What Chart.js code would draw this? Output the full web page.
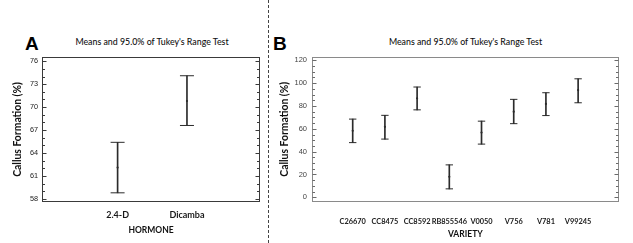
<!DOCTYPE html>
<html>
<head>
<meta charset="utf-8">
<script src="https://cdn.jsdelivr.net/npm/chart.js@4/dist/chart.umd.min.js"></script>
<style>
  body { margin: 0; background: #fff; width: 633px; height: 243px; position: relative; overflow: hidden; }
  canvas { position: absolute; top: 0; }
  #chartA { left: 0; }
  #chartB { left: 270px; }
  .letter { position: absolute; top: 34px; font: bold 19px "Liberation Sans", Arial, sans-serif; line-height: 1; color: #000; }
  .title { position: absolute; top: 37px; font: 500 8.8px Lato, sans-serif; line-height: 10px; color: #111; text-align: center; white-space: nowrap; }
  #sep { position: absolute; left: 268px; top: 0; height: 243px; border-left: 1px dashed #444; }
</style>
</head>
<body>
<div class="letter" style="left:25px">A</div>
<div class="letter" style="left:273px">B</div>
<div class="title" style="left:42px;width:220px">Means and 95.0% of Tukey's Range Test</div>
<div class="title" style="left:312px;width:307px">Means and 95.0% of Tukey's Range Test</div>
<div id="sep"></div>
<canvas id="chartA" width="268" height="243"></canvas>
<canvas id="chartB" width="363" height="243"></canvas>
<script>
// Panel A - hormone
const hormones = ['2.4-D', 'Dicamba'];
const hormoneMean = [62.1, 70.8];
const hormoneLow = [58.8, 67.6];
const hormoneHigh = [65.4, 74.1];
const hormoneTickLabels = [58, 61, 64, 67, 70, 73, 76];

// Panel B - variety
const varieties = ['C26670', 'CC8475', 'CC8592', 'RB855546', 'V0050', 'V756', 'V781', 'V99245'];
const varietyMean = [58.2, 61.7, 86.7, 18.0, 56.7, 75.0, 81.8, 93.9];
const varietyLow = [47.9, 51.0, 76.6, 7.4, 46.6, 64.5, 71.6, 82.8];
const varietyHigh = [68.5, 71.8, 96.6, 28.4, 66.7, 85.8, 91.6, 103.8];
const varietyTickLabels = [0, 20, 40, 60, 80, 100, 120];

const ink = '#2b2b2b';

// frame around the plot area plus inward ticks on both sides
const frameTicks = {
  id: 'frameTicks',
  afterDraw(chart, args, opts) {
    const { ctx, chartArea: a } = chart;
    const y = chart.scales.y;
    ctx.save();
    ctx.strokeStyle = opts.color;
    ctx.lineWidth = 1;
    ctx.strokeRect(Math.round(a.left) + 0.5, Math.round(a.top) + 0.5,
      Math.round(a.right - a.left) - 1, Math.round(a.bottom - a.top) - 1);
    ctx.strokeStyle = opts.tickColor;
    ctx.beginPath();
    y.ticks.forEach(t => {
      const py = Math.round(y.getPixelForValue(t.value)) + 0.5;
      const len = t.label ? 4 : 2.5;
      const l = Math.round(a.left) + 0.5;
      const r = Math.round(a.right) - 0.5;
      ctx.moveTo(l, py); ctx.lineTo(l + len, py);
      ctx.moveTo(r, py); ctx.lineTo(r - len, py);
    });
    ctx.stroke();
    ctx.restore();
  }
};

function makePanel(canvas, cfg) {
  const pts = arr => arr.map((v, i) => ({ x: i + 1, y: v }));
  return new Chart(canvas, {
    type: 'scatter',
    data: {
      datasets: [
        {
          type: 'bar',
          data: cfg.cats.map((c, i) => ({ x: i + 1, y: [cfg.lo[i], cfg.hi[i]] })),
          backgroundColor: ink,
          borderWidth: 0,
          barThickness: 1
        },
        { data: pts(cfg.hi), pointStyle: 'line', pointRadius: cfg.cap, borderColor: ink, borderWidth: 1 },
        { data: pts(cfg.lo), pointStyle: 'line', pointRadius: cfg.cap, borderColor: ink, borderWidth: 1 },
        { data: pts(cfg.mean), pointStyle: 'circle', pointRadius: 1.1, backgroundColor: ink, borderWidth: 0 }
      ]
    },
    options: {
      responsive: false,
      animation: false,
      devicePixelRatio: 1,
      layout: { padding: { top: 57, left: 0, right: cfg.rightPad, bottom: 0 } },
      plugins: {
        legend: { display: false },
        tooltip: { enabled: false },
        frameTicks: { color: cfg.frameColor, tickColor: cfg.tickColor }
      },
      scales: {
        x: {
          type: 'linear',
          offset: false,
          min: cfg.xMin,
          max: cfg.xMax,
          afterBuildTicks: s => { s.ticks = cfg.cats.map((c, i) => ({ value: i + 1 })); },
          afterFit: s => { s.height = cfg.xAxisH; },
          grid: { display: false, drawTicks: false, offset: false },
          border: { display: false },
          ticks: {
            autoSkip: false,
            maxRotation: 0,
            padding: cfg.xPad,
            color: '#1a1a1a',
            font: cfg.xTickFont,
            callback: v => cfg.cats[v - 1]
          },
          title: {
            display: true,
            text: cfg.xTitle,
            color: '#111',
            font: { family: 'Lato', size: 8.5, weight: 'bold' },
            padding: { top: 0, bottom: cfg.xTitlePad }
          }
        },
        y: {
          min: cfg.yMin,
          max: cfg.yMax,
          afterBuildTicks: s => {
            const t = [];
            for (let v = cfg.yLabels[0]; v <= cfg.yLabels[cfg.yLabels.length - 1]; v += cfg.minor) t.push({ value: v });
            s.ticks = t;
          },
          afterFit: s => { s.width = cfg.yAxisW; },
          grid: { display: false, drawTicks: false },
          border: { display: false },
          ticks: {
            autoSkip: false,
            padding: cfg.yPad,
            color: cfg.yTickColor,
            font: cfg.yTickFont,
            callback: v => cfg.yLabels.includes(v) ? String(v) : ''
          },
          title: {
            display: true,
            text: 'Callus Formation (%)',
            color: '#111',
            font: { family: 'Lato', size: 10.4, weight: 'bold' },
            padding: { top: cfg.yTitlePad, bottom: 0 }
          }
        }
      }
    },
    plugins: [frameTicks]
  });
}

makePanel(document.getElementById('chartA'), {
  cats: hormones, mean: hormoneMean, lo: hormoneLow, hi: hormoneHigh,
  yLabels: hormoneTickLabels, minor: 1, yMin: 57.6, yMax: 76.55,
  xMin: -0.09, xMax: 3.053, cap: 7,
  rightPad: 6, yAxisW: 42, xAxisH: 41,
  xPad: 8, xTitlePad: 7.6, yPad: 4, yTitlePad: 11.8,
  xTitle: 'HORMONE',
  frameColor: '#3a3a3a', tickColor: '#3a3a3a', yTickColor: '#222',
  xTickFont: { family: 'Lato', size: 9, weight: 'bold' },
  yTickFont: { family: '"Liberation Sans Narrow", "Liberation Sans", sans-serif', size: 7.3 }
});

makePanel(document.getElementById('chartB'), {
  cats: varieties, mean: varietyMean, lo: varietyLow, hi: varietyHigh,
  yLabels: varietyTickLabels, minor: 5, yMin: -3.85, yMax: 122.9,
  xMin: -0.264, xMax: 9.26, cap: 3.7,
  rightPad: 14.3, yAxisW: 42, xAxisH: 41.3,
  xPad: 15, xTitlePad: 3.6, yPad: 5, yTitlePad: 8.8,
  xTitle: 'VARIETY',
  frameColor: '#8a8a8a', tickColor: '#6a6a6a', yTickColor: '#444',
  xTickFont: { family: '"Liberation Sans Narrow", Lato, sans-serif', size: 7.4, weight: 'bold' },
  yTickFont: { family: '"Liberation Sans", Arial, sans-serif', size: 7.5 }
});
</script>
</body>
</html>
